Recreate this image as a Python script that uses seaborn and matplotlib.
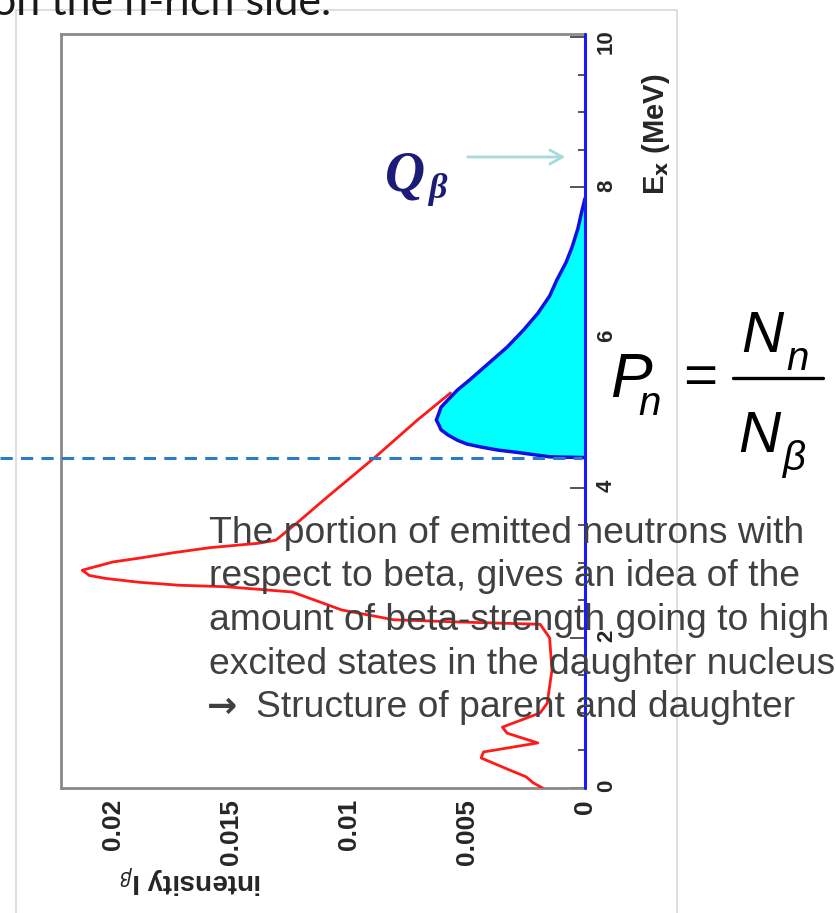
import pandas as pd
import seaborn as sns
import matplotlib.pyplot as plt
from matplotlib.lines import Line2D
from matplotlib.ticker import MultipleLocator

# Données (Ex en MeV, intensité I_beta)
red_ex = [0.00, 0.07, 0.15, 0.24, 0.40, 0.48, 0.60, 0.73, 0.81, 1.00, 1.13, 1.57,
          2.00, 2.18, 2.21, 2.24, 2.37, 2.61, 2.68, 2.70, 2.74, 2.79, 2.83, 2.90,
          3.01, 3.06, 3.13, 3.20, 3.26, 3.30, 3.53, 3.88, 4.43, 4.90, 5.26]
red_i = [0.0018, 0.0022, 0.0025, 0.0032, 0.0044, 0.0043, 0.0020, 0.0033, 0.0035,
         0.0019, 0.0016, 0.0014, 0.0015, 0.0019, 0.0053, 0.0081, 0.0103, 0.0124,
         0.0152, 0.0172, 0.0189, 0.0203, 0.0210, 0.0213, 0.0200, 0.0189, 0.0175,
         0.0159, 0.0138, 0.0131, 0.0122, 0.0109, 0.0088, 0.0071, 0.0057]

blue_ex = [4.40, 4.41, 4.44, 4.47, 4.50, 4.54, 4.58, 4.63, 4.70, 4.77, 4.84,
           4.90, 4.98, 5.07, 5.17, 5.30, 5.43, 5.65, 5.87, 6.10, 6.32, 6.55,
           6.76, 7.00, 7.20, 7.45, 7.66, 7.85]
blue_i = [0.0, 0.0015, 0.0022, 0.0029, 0.0037, 0.0044, 0.0050, 0.0054, 0.0058,
          0.0061, 0.0062, 0.0063, 0.0062, 0.0061, 0.0058, 0.0054, 0.0049,
          0.0041, 0.0033, 0.0026, 0.0020, 0.0015, 0.0012, 0.0008, 0.00055,
          0.0003, 0.00015, 0.0]

ex_ticks = [0, 2, 4, 6, 8, 10]
ex_labels = ['0', '2', '4', '6', '8', '10']
i_ticks = [0, 0.005, 0.01, 0.015, 0.02]
i_labels = ['0', '0.005', '0.01', '0.015', '0.02']
sn = 4.4  # seuil de séparation neutron

text_lines = [
    'The portion of emitted neutrons with',
    'respect to beta, gives an idea of the',
    'amount of beta-strength going to high',
    'excited states in the daughter nucleus',
    'Structure of parent and daughter',
]

W, H = 836, 913


def fx(x):
    return x / W


def fy(y):
    return 1 - y / H


sns.set_style('white')
plt.rcParams['font.family'] = ['Liberation Sans', 'DejaVu Sans']
plt.rcParams['mathtext.fontset'] = 'dejavusans'

fig = plt.figure(figsize=(W / 100, H / 100), dpi=100)
ax = fig.add_axes([fx(61), fy(788), fx(585) - fx(61), fy(34) - fy(788)])

red = pd.DataFrame({'Ex': red_ex, 'I': red_i})
blue = pd.DataFrame({'Ex': blue_ex, 'I': blue_i})

ax.fill_betweenx(blue['Ex'], blue['I'], 0, color='#00ffff', zorder=2)
sns.lineplot(data=red, x='I', y='Ex', orient='y', estimator=None,
             color='#ff1a1a', lw=2, ax=ax, zorder=3)
sns.lineplot(data=blue, x='I', y='Ex', orient='y', estimator=None,
             color='#1010e0', lw=2.5, ax=ax, zorder=4)
ax.axvline(0, color='#1a1aff', lw=2.2, clip_on=False, zorder=5)

# ligne pointillée au seuil
ax.axhline(sn, xmin=-0.117, xmax=0.995, clip_on=False, color='#2a7cc8',
           lw=2.2, ls=(0, (4, 2.7)), zorder=6)

ax.set_xlim(0.0222, 0)
ax.set_ylim(0, 10.04)

ax.set_xticks(i_ticks, i_labels)
ax.xaxis.set_minor_locator(MultipleLocator(0.001))
ax.yaxis.tick_right()
ax.set_yticks(ex_ticks, ex_labels)
ax.yaxis.set_minor_locator(MultipleLocator(0.5))

ax.tick_params(axis='x', which='major', direction='in', length=16, width=1.4,
               color='#555555', labelsize=19, labelrotation=90, pad=8)
ax.tick_params(axis='x', which='minor', direction='in', length=8.5, width=1.4,
               color='#555555')
ax.tick_params(axis='y', which='major', direction='in', length=11, width=1.4,
               color='#555555', labelsize=16, labelrotation=90, pad=8,
               right=True, left=False)
ax.tick_params(axis='y', which='minor', direction='in', length=5, width=1.4,
               color='#555555', right=True, left=False)
for lbl in ax.get_xticklabels() + ax.get_yticklabels():
    lbl.set_fontweight('bold')

for s in ax.spines.values():
    s.set_color('#8a8a8a')
    s.set_linewidth(2)

ax.set_xlabel(r'intensity I$_{\beta}$', fontsize=20, fontweight='bold',
              rotation=180)
ax.xaxis.set_label_coords(0.246, -0.10)
ax.yaxis.set_label_position('right')
ax.set_ylabel(r'E$_\mathbf{x}$ (MeV)', fontsize=21, fontweight='bold',
              rotation=90)
ax.yaxis.set_label_coords(1.105, 0.867)

# cadre de la diapositive
frame = dict(color='#d9d9d9', lw=1.2, transform=fig.transFigure)
fig.add_artist(Line2D([fx(16), fx(16)], [fy(10), 0], **frame))
fig.add_artist(Line2D([fx(16), fx(677)], [fy(10), fy(10)], **frame))
fig.add_artist(Line2D([fx(677), fx(677)], [fy(10), 0], **frame))

# titre coupé en haut
fig.text(fx(-8), fy(15), 'on the n-rich side.', fontsize=31,
         family=['Lato', 'DejaVu Sans'], color='#1a1a1a', va='baseline')

# Q_beta et flèche
qc = '#1c1c78'
fig.text(fx(385), fy(190), 'Q', fontsize=40, fontweight='bold', style='italic',
         family=['Liberation Serif', 'DejaVu Serif'], color=qc, va='baseline')
fig.text(fx(428), fy(198), '\u03b2', fontsize=26, fontweight='bold',
         style='italic', family=['Liberation Serif', 'DejaVu Serif'], color=qc,
         va='baseline')
ax.annotate('', xy=(568, H - 157), xytext=(465, H - 157),
            xycoords='figure pixels', textcoords='figure pixels',
            arrowprops=dict(arrowstyle='->,head_length=0.9,head_width=0.5',
                            color='#a6d9dc', lw=2))

# formule P_n = N_n / N_beta
fk = dict(style='italic', color='black', va='baseline')
fig.text(fx(610), fy(397), 'P', fontsize=45, **fk)
fig.text(fx(638), fy(415), 'n', fontsize=29, **fk)
fig.text(fx(700), fy(379), '=', fontsize=42, color='black', ha='center',
         va='center')
fig.text(fx(741), fy(352), 'N', fontsize=42, **fk)
fig.text(fx(786), fy(370), 'n', fontsize=29, **fk)
fig.text(fx(738), fy(452), 'N', fontsize=42, **fk)
fig.text(fx(783), fy(470), '\u03b2', fontsize=29, **fk)
fig.add_artist(Line2D([fx(733), fx(823)], [fy(378), fy(378)], color='black',
                      lw=2.4, transform=fig.transFigure))

# texte explicatif
tc = '#404040'
for k, line in enumerate(text_lines):
    x0 = 209 if k < 4 else 256
    fig.text(fx(x0), fy(543 + 43.5 * k), line, fontsize=26.8, color=tc,
             va='baseline')
fig.text(fx(207), fy(543 + 43.5 * 4), '\u2192', fontsize=26, color=tc,
         va='baseline', family=['DejaVu Sans'], fontweight='bold')

fig.savefig('out.png', dpi=100)
